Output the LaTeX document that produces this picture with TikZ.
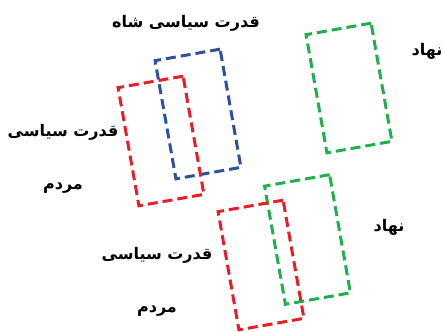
\documentclass[tikz,border=0pt]{standalone}
\usepackage{fontspec}
\newfontfamily\fafont[Script=Arabic]{DejaVu Sans}
\TeXXeTstate=1
\definecolor{frblue}{RGB}{43,82,160}
\definecolor{frred}{RGB}{237,28,36}
\definecolor{frgreen}{RGB}{30,176,75}

\begin{document}
\begin{tikzpicture}[
      x=1pt, y=-1pt,
      frame/.style = {draw=#1, rectangle, rotate=10, line width=3pt,
                      dash pattern=on 10pt off 5pt,
                      minimum width=66pt, minimum height=120pt, inner sep=0pt},
      lbl/.style = {font=\fafont\bfseries\fontsize{16}{18}\selectfont,
                    inner sep=0pt}
    ]
    \useasboundingbox (0,0) rectangle (443,331);

    \node (shah)  [frame=frblue]  at (198,114)   {};
    \node (mardA) [frame=frred]   at (161,141)   {};
    \node (nahA)  [frame=frgreen] at (349,88)    {};
    \node (nahB)  [frame=frgreen] at (307.5,239.5) {};
    \node (mardB) [frame=frred]   at (261,265)   {};

    \node (tShah)  [lbl] at (186,23)  {\beginR قدرت سیاسی شاه\endR};
    \node (tNahA)  [lbl] at (427,51)  {\beginR نهاد\endR};
    \node (tQudA)  [lbl] at (63,132)  {\beginR قدرت سیاسی\endR};
    \node (tMarA)  [lbl] at (63,188)  {\beginR مردم\endR};
    \node (tNahB)  [lbl] at (389,227) {\beginR نهاد\endR};
    \node (tQudB)  [lbl] at (157,255) {\beginR قدرت سیاسی\endR};
    \node (tMarB)  [lbl] at (157,311) {\beginR مردم\endR};
  \end{tikzpicture}
\end{document}
